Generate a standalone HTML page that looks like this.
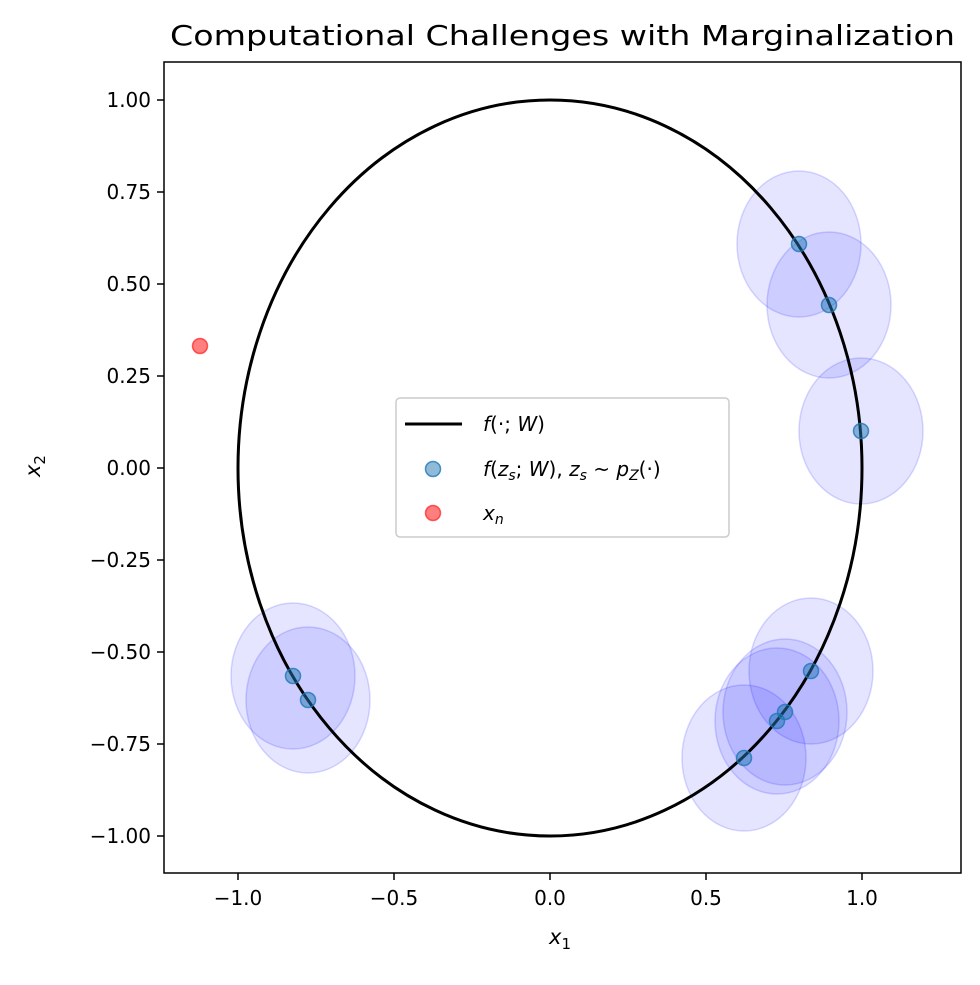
<!DOCTYPE html>
<html><head><meta charset="utf-8"><style>
body{margin:0;background:#fff}
svg text{font-family:"DejaVu Sans","Liberation Sans",sans-serif;fill:#000}
</style></head><body>
<svg width="980" height="980" viewBox="0 0 980 980" xmlns="http://www.w3.org/2000/svg">
<rect width="980" height="980" fill="#fff"/>
<text x="170" y="45" font-size="28" textLength="785" lengthAdjust="spacingAndGlyphs">Computational Challenges with Marginalization</text>
<g fill="#0000ff" fill-opacity="0.1" stroke="#0000ff" stroke-opacity="0.15" stroke-width="1.5">
<ellipse cx="799" cy="244" rx="62" ry="73"/>
<ellipse cx="829" cy="305" rx="62" ry="73"/>
<ellipse cx="861" cy="431" rx="62" ry="73"/>
<ellipse cx="811" cy="671" rx="62" ry="73"/>
<ellipse cx="785" cy="712" rx="62" ry="73"/>
<ellipse cx="777" cy="721" rx="62" ry="73"/>
<ellipse cx="744" cy="758" rx="62" ry="73"/>
<ellipse cx="293" cy="676" rx="62" ry="73"/>
<ellipse cx="308" cy="700" rx="62" ry="73"/>
</g>
<ellipse cx="550" cy="468" rx="312" ry="368" fill="none" stroke="#000" stroke-width="3"/>
<g fill="#1f77b4" fill-opacity="0.5" stroke="#1f77b4" stroke-opacity="0.8" stroke-width="1.5">
<circle cx="799" cy="244" r="7.5"/><circle cx="829" cy="305" r="7.5"/><circle cx="861" cy="431" r="7.5"/>
<circle cx="811" cy="671" r="7.5"/><circle cx="785" cy="712" r="7.5"/><circle cx="777" cy="721" r="7.5"/>
<circle cx="744" cy="758" r="7.5"/><circle cx="293" cy="676" r="7.5"/><circle cx="308" cy="700" r="7.5"/>
</g>
<circle cx="200" cy="346" r="7.5" fill="#ff0000" fill-opacity="0.5" stroke="#ff0000" stroke-opacity="0.6" stroke-width="1.5"/>
<rect x="164" y="62" width="797" height="811" fill="none" stroke="#000" stroke-width="1.5"/>
<g stroke="#000" stroke-width="1.5">
<line x1="238" y1="873" x2="238" y2="880"/><line x1="394" y1="873" x2="394" y2="880"/>
<line x1="550" y1="873" x2="550" y2="880"/><line x1="706" y1="873" x2="706" y2="880"/>
<line x1="862" y1="873" x2="862" y2="880"/>
<line x1="157" y1="100" x2="164" y2="100"/><line x1="157" y1="192" x2="164" y2="192"/>
<line x1="157" y1="284" x2="164" y2="284"/><line x1="157" y1="376" x2="164" y2="376"/>
<line x1="157" y1="468" x2="164" y2="468"/><line x1="157" y1="560" x2="164" y2="560"/>
<line x1="157" y1="652" x2="164" y2="652"/><line x1="157" y1="744" x2="164" y2="744"/>
<line x1="157" y1="836" x2="164" y2="836"/>
</g>
<g font-size="20" text-anchor="middle">
<text x="238" y="905">−1.0</text><text x="394" y="905">−0.5</text><text x="550" y="905">0.0</text>
<text x="706" y="905">0.5</text><text x="862" y="905">1.0</text>
</g>
<g font-size="20" text-anchor="end">
<text x="151" y="107">1.00</text><text x="151" y="199">0.75</text><text x="151" y="291">0.50</text>
<text x="151" y="383">0.25</text><text x="151" y="475">0.00</text><text x="151" y="567">−0.25</text>
<text x="151" y="659">−0.50</text><text x="151" y="751">−0.75</text><text x="151" y="843">−1.00</text>
</g>
<text x="560" y="944" font-size="21" font-style="italic" text-anchor="middle">x<tspan font-size="15" dy="5" font-style="normal">1</tspan></text>
<text transform="translate(40,466) rotate(-90)" font-size="21" font-style="italic" text-anchor="middle">x<tspan font-size="15" dy="5" font-style="normal">2</tspan></text>
<rect x="396" y="398" width="333" height="139" rx="4" fill="#fff" fill-opacity="0.8" stroke="#ccc" stroke-width="1.5"/>
<line x1="405" y1="424" x2="462" y2="424" stroke="#000" stroke-width="3"/>
<circle cx="433" cy="469" r="7.5" fill="#1f77b4" fill-opacity="0.5" stroke="#1f77b4" stroke-opacity="0.8" stroke-width="1.5"/>
<circle cx="433" cy="513" r="7.5" fill="#ff0000" fill-opacity="0.5" stroke="#ff0000" stroke-opacity="0.6" stroke-width="1.5"/>
<g font-size="20">
<text x="483" y="431"><tspan font-style="italic">f</tspan>(·; <tspan font-style="italic">W</tspan>)</text>
<text x="483" y="476"><tspan font-style="italic">f</tspan>(<tspan font-style="italic">z<tspan font-size="14" dy="4">s</tspan></tspan><tspan dy="-4">; </tspan><tspan font-style="italic">W</tspan>), <tspan font-style="italic">z<tspan font-size="14" dy="4">s</tspan></tspan><tspan dy="-4"> ~ </tspan><tspan font-style="italic">p<tspan font-size="14" dy="4">Z</tspan></tspan><tspan dy="-4">(·)</tspan></text>
<text x="483" y="520" font-style="italic">x<tspan font-size="14" dy="4">n</tspan></text>
</g>
</svg>
</body></html>
